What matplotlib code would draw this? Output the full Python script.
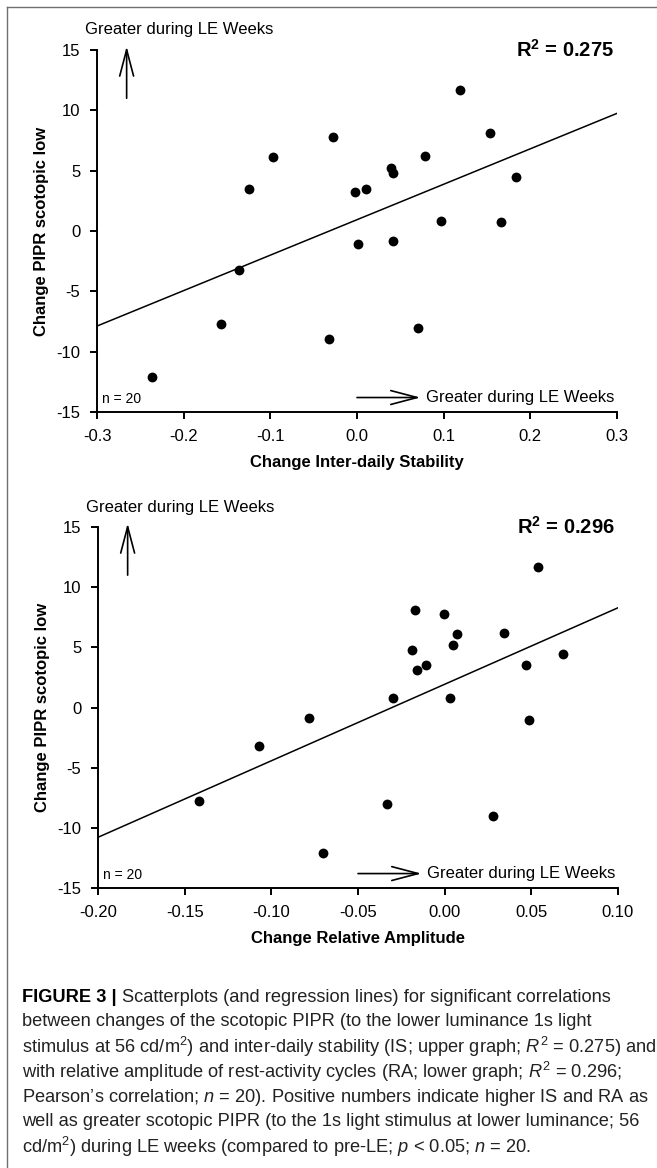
import numpy as np
import matplotlib.pyplot as plt
from matplotlib.lines import Line2D

plt.rcParams['font.family'] = ['Liberation Sans', 'DejaVu Sans']
plt.rcParams['axes.unicode_minus'] = False
plt.rcParams['mathtext.fontset'] = 'custom'
plt.rcParams['mathtext.rm'] = 'Liberation Sans'
plt.rcParams['mathtext.it'] = 'Liberation Sans:italic'
plt.rcParams['mathtext.bf'] = 'Liberation Sans:bold'

# upper graph: change in inter-daily stability vs change in scotopic PIPR
is_change = [0.119, -0.028, -0.097, -0.125, -0.002, 0.010, 0.039, 0.042, 0.079, 0.154,
             0.183, 0.097, 0.166, 0.001, 0.041, -0.136, -0.157, -0.032, 0.070, -0.236]
pipr_is = [11.7, 7.8, 6.1, 3.5, 3.2, 3.5, 5.2, 4.8, 6.2, 8.1,
           4.5, 0.8, 0.75, -1.05, -0.85, -3.2, -7.7, -8.95, -8.05, -12.1]

# lower graph: change in relative amplitude vs change in scotopic PIPR
ra_change = [0.054, -0.017, -0.0004, 0.007, 0.034, -0.019, 0.005, -0.016, -0.011, 0.047,
             0.068, -0.030, 0.003, 0.0485, -0.078, -0.107, -0.142, -0.033, 0.028, -0.070]
pipr_ra = [11.7, 8.1, 7.8, 6.1, 6.2, 4.8, 5.2, 3.15, 3.5, 3.5,
           4.45, 0.75, 0.8, -1.05, -0.85, -3.2, -7.75, -8.05, -9.0, -12.1]

r2_is = "0.275"
r2_ra = "0.296"
n_subj = 20

is_ticks = [-0.3, -0.2, -0.1, 0.0, 0.1, 0.2, 0.3]
ra_ticks = [-0.20, -0.15, -0.10, -0.05, 0.00, 0.05, 0.10]
y_ticks = [-15, -10, -5, 0, 5, 10, 15]

caption = [
    "Scatterplots (and regression lines) for significant correlations",
    "between changes of the scotopic PIPR (to the lower luminance 1s light",
    "stimulus at 56 cd/m$^2$) and inter-daily stability (IS; upper graph; $R^2$ = 0.275) and",
    "with relative amplitude of rest-activity cycles (RA; lower graph; $R^2$ = 0.296;",
    "Pearson\u2019s correlation; $n$ = 20). Positive numbers indicate higher IS and RA as",
    "well as greater scotopic PIPR (to the 1s light stimulus at lower luminance; 56",
    "cd/m$^2$) during LE weeks (compared to pre-LE; $p$ < 0.05; $n$ = 20.",
]

W, H = 657, 1168
fig = plt.figure(figsize=(W / 100, H / 100), dpi=100)


def panel(rect, x, y, ticks, fmt, xlabel, r2):
    ax = fig.add_axes(rect)
    xmin, xmax = ticks[0], ticks[-1]
    span = xmax - xmin
    ax.scatter(x, y, s=50, color='black', zorder=3, linewidths=0)
    k, b = np.polyfit(x, y, 1)
    xs = np.array([xmin, xmax])
    ax.plot(xs, k * xs + b, color='black', lw=1.1)
    ax.set_xlim(xmin, xmax)
    ax.set_ylim(-15, 15)
    ax.set_xticks(ticks)
    ax.set_xticklabels([fmt.format(t) for t in ticks])
    ax.set_yticks(y_ticks)
    for s in ['top', 'right']:
        ax.spines[s].set_visible(False)
    for s in ['left', 'bottom']:
        ax.spines[s].set_linewidth(1.4)
    ax.tick_params(length=5, width=1.4, labelsize=12, pad=7)
    ax.set_xlabel(xlabel, fontsize=12, fontweight='bold', labelpad=8)
    ax.set_ylabel('Change PIPR scotopic low', fontsize=12, fontweight='bold', labelpad=5)

    # annotations, placed relative to the axis range like the R original
    ax.text(xmin - 0.023 * span, 16.66, 'Greater during LE Weeks', fontsize=12,
            ha='left', va='center', clip_on=False)
    ax.annotate('', xy=(xmin + 0.057 * span, 15.3), xytext=(xmin + 0.057 * span, 11.0),
                arrowprops=dict(arrowstyle='->,head_length=1.9,head_width=0.5',
                                lw=1.2, color='black', shrinkA=0, shrinkB=0,
                                mutation_scale=10), annotation_clip=False)
    ax.annotate('', xy=(xmin + 0.622 * span, -13.8), xytext=(xmin + 0.50 * span, -13.8),
                arrowprops=dict(arrowstyle='->,head_length=1.9,head_width=0.5',
                                lw=1.2, color='black', shrinkA=0, shrinkB=0,
                                mutation_scale=10), annotation_clip=False)
    ax.text(xmin + 0.633 * span, -13.8, 'Greater during LE Weeks', fontsize=12,
            ha='left', va='center', clip_on=False)
    ax.text(xmin + 0.01 * span, -13.9, 'n = %d' % n_subj, fontsize=10,
            ha='left', va='center')
    ax.text(xmax - 0.007 * span, 15.0, r'$\mathbf{R^2}$ = ' + r2, fontsize=14.5,
            fontweight='bold', ha='right', va='center', clip_on=False)
    return ax


panel([97 / W, 1 - 412 / H, 520 / W, 362 / H], is_change, pipr_is,
      is_ticks, '{:.1f}', 'Change Inter-daily Stability', r2_is)
panel([98 / W, 1 - 888 / H, 520 / W, 361 / H], ra_change, pipr_ra,
      ra_ticks, '{:.2f}', 'Change Relative Amplitude', r2_ra)

# caption: pick the size so the widest line runs from x=22 to x=655 like the original
x0 = 22 / W
y0 = 997
step = 25
probe = fig.text(0, 0, caption[2], fontsize=13)
fig.canvas.draw()
cap_size = 13 * (655 - 22) / probe.get_window_extent().width
probe.remove()

t = fig.text(x0, 1 - y0 / H, 'FIGURE 3 | ', fontweight='bold',
             fontsize=cap_size, va='center', ha='left')
fig.canvas.draw()
bb = t.get_window_extent()
fig.text(bb.x1 / W, 1 - y0 / H, caption[0], fontsize=cap_size,
         va='center', ha='left', color='#222222')
for i, line in enumerate(caption[1:], start=1):
    fig.text(x0, 1 - (y0 + i * step) / H, line, fontsize=cap_size,
             va='center', ha='left', color='#222222')

# frame (left and top edges visible in the original)
fig.add_artist(Line2D([6.5 / W, 6.5 / W], [0, 1 - 7 / H], transform=fig.transFigure,
                      color='#707070', lw=1.0))
fig.add_artist(Line2D([6.5 / W, 1], [1 - 7 / H, 1 - 7 / H], transform=fig.transFigure,
                      color='#707070', lw=1.0))

fig.savefig('out.png', dpi=100)
